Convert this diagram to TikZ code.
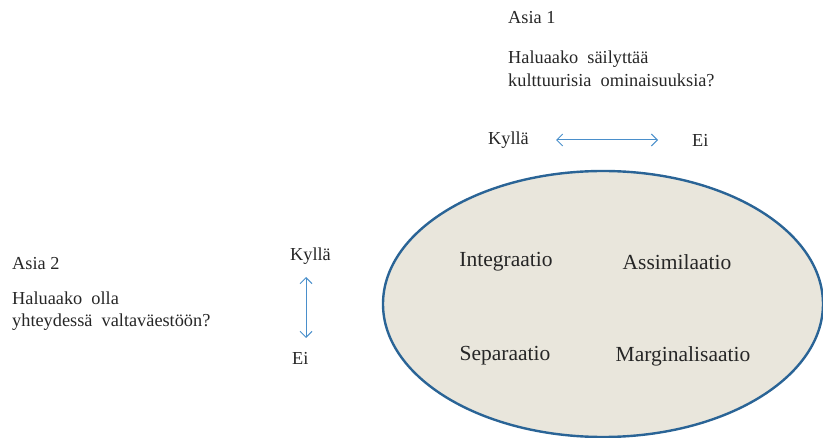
\documentclass[tikz,border=0pt]{standalone}
\usepackage{fontspec}
\setmainfont{Liberation Serif}
\usetikzlibrary{arrows.meta}
\definecolor{ellfill}{HTML}{E9E6DC}
\definecolor{elldraw}{HTML}{2A6496}
\definecolor{arrblue}{HTML}{4A8FCB}
\definecolor{txt}{HTML}{262626}
\begin{document}
\begin{tikzpicture}[x=1pt,y=-1pt,
  lbl/.style={font=\fontsize{18.3}{22.5}\selectfont, text=txt, inner sep=0pt, anchor=west, align=left},
  term/.style={font=\fontsize{21.5}{24}\selectfont, text=txt, inner sep=0pt},
  dblarrow/.style={draw=arrblue, line width=1pt, {Straight Barb[length=6pt,width=12pt]}-{Straight Barb[length=6pt,width=12pt]}}]
\useasboundingbox (0,0) rectangle (823,438);
\begin{scope}
\clip (0,0) rectangle (823,438);
\draw[fill=ellfill, draw=elldraw, line width=2.4pt] (603,304) ellipse [x radius=220, y radius=133];
\end{scope}
% Asia 1
\node[lbl] (a1) at (508,18) {Asia 1};
\node[lbl] (q1) at (508,69) {Haluaako\ \ säilyttää\\kulttuurisia\ \ ominaisuuksia?};
\node[lbl] (k1) at (488,140) {Kyllä};
\node[lbl] (e1) at (692,140) {Ei};
\coordinate (h1) at (556,140);
\coordinate (h2) at (658,140);
\draw[dblarrow] (h1) -- (h2);
% Asia 2
\node[lbl] (a2) at (12,264) {Asia 2};
\node[lbl] (q2) at (12,311) {Haluaako\ \ olla\\yhteydessä\ \ valtaväestöön?};
\node[lbl] (k2) at (290,256) {Kyllä};
\node[lbl] (e2) at (292,358) {Ei};
\coordinate (v1) at (306,277);
\coordinate (v2) at (306,338);
\draw[dblarrow] (v1) -- (v2);
% terms
\node[term] (int) at (506,262) {Integraatio};
\node[term] (ass) at (677,262) {Assimilaatio};
\node[term] (sep) at (505,356) {Separaatio};
\node[term] (mar) at (683,356) {Marginalisaatio};
\end{tikzpicture}
\end{document}
